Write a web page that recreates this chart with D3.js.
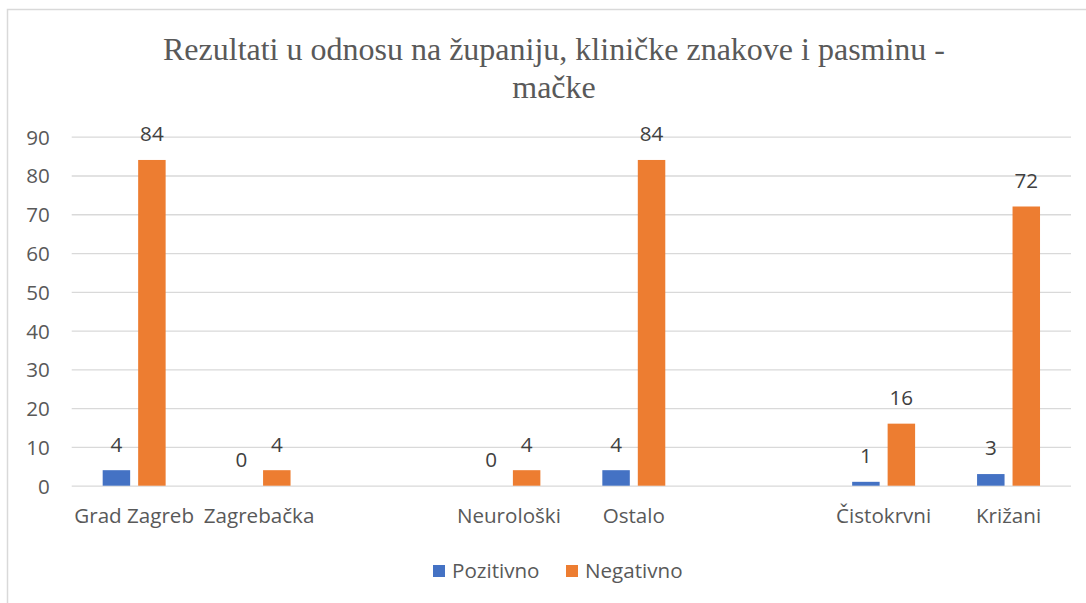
<!DOCTYPE html>
<html>
<head>
<meta charset="utf-8">
<script src="https://cdn.jsdelivr.net/npm/d3@7"></script>
<style>
  html, body { margin: 0; padding: 0; background: #fff; }
  svg { display: block; }
</style>
</head>
<body>
<svg id="chart" width="1086" height="603"></svg>
<script>
const categories = ["Grad Zagreb", "Zagrebačka", "", "Neurološki", "Ostalo", "", "Čistokrvni", "Križani"];
const seriesNames = ["Pozitivno", "Negativno"];
const pozitivno = [4, 0, null, 0, 4, null, 1, 3];
const negativno = [84, 4, null, 4, 84, null, 16, 72];
const yTicks = [0, 10, 20, 30, 40, 50, 60, 70, 80, 90];
const titleLines = ["Rezultati u odnosu na županiju, kliničke znakove i pasminu -", "mačke"];
const colors = ["#4472C4", "#ED7D31"];

const W = 1086, H = 603;
const margin = { left: 71.7, right: 15, top: 136.7, bottom: 117.3 };
const svg = d3.select("#chart");
svg.append("rect").attr("width", W).attr("height", H).attr("fill", "#fff");

// outer frame (left and top visible)
svg.append("path").attr("d", `M7.5,603 L7.5,9.5 L1086,9.5`)
  .attr("fill", "none").attr("stroke", "#d9d9d9").attr("stroke-width", 1.5);

const x0 = d3.scaleBand().domain(d3.range(categories.length))
  .range([margin.left, W - margin.right]).padding(0);
const x1 = d3.scaleBand().domain([0, 1])
  .range([x0.bandwidth() * 0.248, x0.bandwidth() * 0.752]).paddingInner(0.2254);
const y = d3.scaleLinear().domain([0, 90]).range([H - margin.bottom, margin.top]);

const font = "'Open Sans', Lato, sans-serif";
const fs = "20.6px";

// gridlines
const yAxis = d3.axisLeft(y).tickValues(yTicks).tickSize(-(W - margin.right - margin.left)).tickPadding(22);
const gy = svg.append("g").attr("transform", `translate(${margin.left},0)`).call(yAxis);
gy.select(".domain").remove();
gy.selectAll(".tick line").attr("stroke", "#d9d9d9").attr("stroke-width", 1.3);
gy.selectAll(".tick text").attr("fill", "#595959").attr("dy", "0.36em").style("font-family", font).style("font-size", fs);

// bars
const data = categories.map((c, i) => ({ i, vals: [pozitivno[i], negativno[i]] }));
const groups = svg.append("g").selectAll("g").data(data).join("g")
  .attr("transform", d => `translate(${x0(d.i)},0)`);

groups.selectAll("rect").data(d => d.vals.map((v, s) => ({ v, s })).filter(e => e.v !== null))
  .join("rect")
  .attr("x", e => x1(e.s)).attr("width", x1.bandwidth())
  .attr("y", e => y(e.v)).attr("height", e => y(0) - y(e.v))
  .attr("fill", e => colors[e.s]);

groups.selectAll("text.val").data(d => d.vals.map((v, s) => ({ v, s })).filter(e => e.v !== null))
  .join("text").attr("class", "val")
  .attr("x", e => x1(e.s) + x1.bandwidth() / 2)
  .attr("y", e => y(e.v) - 26)
  .attr("dy", "0.36em")
  .attr("text-anchor", "middle")
  .attr("fill", "#404040").style("font-family", font).style("font-size", fs)
  .text(e => e.v);

// x axis labels
const xAxis = d3.axisBottom(x0).tickFormat(i => categories[i]).tickSize(0).tickPadding(23);
const gx = svg.append("g").attr("transform", `translate(0,${y(0)})`).call(xAxis);
gx.select(".domain").remove();
gx.selectAll(".tick text").attr("fill", "#595959").style("font-family", font).style("font-size", fs);

// title
svg.append("g").selectAll("text").data(titleLines).join("text")
  .attr("x", 554).attr("y", (d, i) => 59.5 + i * 38)
  .attr("text-anchor", "middle").attr("fill", "#595959")
  .style("font-family", "'Liberation Serif', 'Times New Roman', serif").style("font-size", "32px")
  .text(d => d);

// legend
const legend = svg.append("g").attr("transform", "translate(433,571)");
const lx = [0, 133];
seriesNames.forEach((n, s) => {
  const g = legend.append("g").attr("transform", `translate(${lx[s]},0)`);
  g.append("rect").attr("x", 0).attr("y", -6).attr("width", 12).attr("height", 12).attr("fill", colors[s]);
  g.append("text").attr("x", 19).attr("dy", "0.36em").attr("fill", "#595959")
    .style("font-family", font).style("font-size", fs).text(n);
});
</script>
</body>
</html>
